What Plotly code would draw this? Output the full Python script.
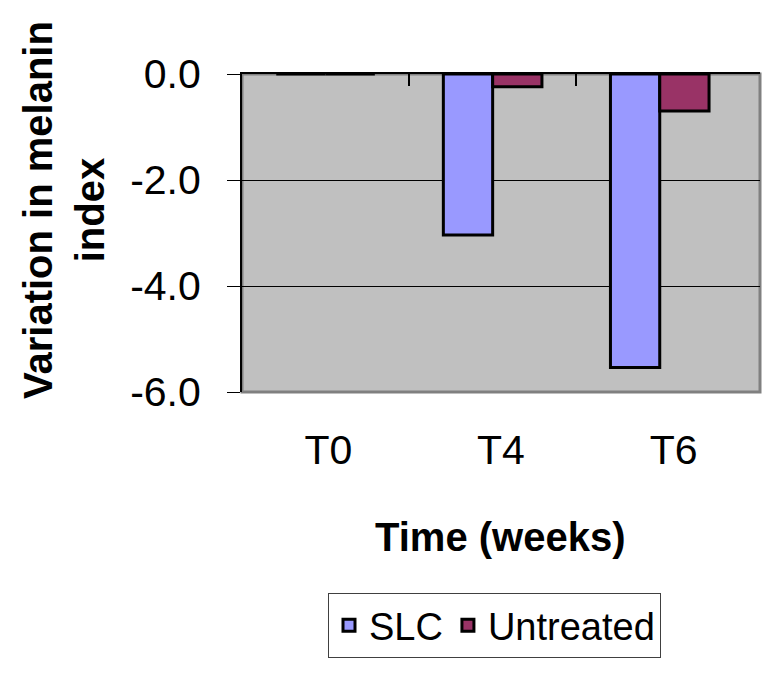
import plotly.graph_objects as go

categories = ["T0", "T4", "T6"]
slc = [0.0, -3.04, -5.54]
untreated = [0.0, -0.24, -0.70]
y_ticks = [0, -2, -4, -6]
y_ticklabels = ["0.0", "-2.0", "-4.0", "-6.0"]

FONT = "Liberation Sans, Arial, sans-serif"

fig = go.Figure()
fig.add_trace(go.Bar(x=categories, y=slc, name="SLC",
                     marker=dict(color="#9999FF", line=dict(color="black", width=3))))
fig.add_trace(go.Bar(x=categories, y=untreated, name="Untreated",
                     marker=dict(color="#993366", line=dict(color="black", width=3))))
# invisible helper traces: category labels (bottom) and boundary tick marks (top)
fig.add_trace(go.Scatter(x=categories, y=[None] * len(categories), xaxis="x2",
                         showlegend=False, hoverinfo="skip", mode="markers"))
fig.add_trace(go.Scatter(x=[0.5, 1.5], y=[None, None], xaxis="x3",
                         showlegend=False, hoverinfo="skip", mode="markers"))

fig.update_layout(
    width=762, height=673,
    margin=dict(l=242, r=2, t=74, b=281),
    paper_bgcolor="white",
    plot_bgcolor="#C0C0C0",
    bargap=0.41, bargroupgap=0,
    font=dict(family=FONT, color="black"),
    xaxis=dict(type="category", range=[-0.5, 2.6], side="top",
               showline=True, linecolor="black", linewidth=2,
               ticks="", showticklabels=False, showgrid=False, zeroline=False),
    xaxis2=dict(type="category", overlaying="x", anchor="y", side="bottom",
                range=[-0.5, 2.5], showline=False, ticks="", showgrid=False,
                zeroline=False, tickfont=dict(size=41, family=FONT),
                ticklabelstandoff=30),
    xaxis3=dict(type="linear", overlaying="x", anchor="y", side="top",
                range=[-0.5, 2.6], tickmode="array", tickvals=[0.5, 1.5, 2.6],
                ticks="inside", ticklen=12, tickcolor="black", tickwidth=1.5,
                showticklabels=False, showline=False, showgrid=False,
                zeroline=False),
    yaxis=dict(range=[-6, 0], tickmode="array", tickvals=y_ticks,
               ticktext=y_ticklabels, ticks="outside", ticklen=13,
               tickcolor="black", tickwidth=1,
               showline=True, linecolor="black", linewidth=2,
               showgrid=True, gridcolor="black", gridwidth=1,
               zeroline=False, tickfont=dict(size=41, family=FONT),
               ticklabelstandoff=18),
    legend=dict(orientation="h", x=(328 - 242) / 518, xanchor="left",
                y=(392 - 593) / 318, yanchor="top",
                bordercolor="#404040", borderwidth=1, bgcolor="white",
                font=dict(size=38, family=FONT), traceorder="normal",
                itemwidth=30),
    shapes=[dict(type="rect", xref="paper", yref="paper", x0=0, x1=1, y0=0, y1=1,
                 line=dict(color="#808080", width=3), layer="below")],
    annotations=[
        dict(text="Variation in melanin<br>index", textangle=-90,
             xref="paper", yref="paper", x=(64 - 242) / 518, y=(392 - 210) / 318,
             xanchor="center", yanchor="middle", showarrow=False,
             font=dict(size=40, family=FONT, weight="bold")),
        dict(text="Time (weeks)", xref="paper", yref="paper",
             x=(500 - 242) / 518, y=(392 - 537) / 318,
             xanchor="center", yanchor="middle", showarrow=False,
             font=dict(size=40, family=FONT, weight="bold")),
    ],
)

fig.write_html("out.html")
